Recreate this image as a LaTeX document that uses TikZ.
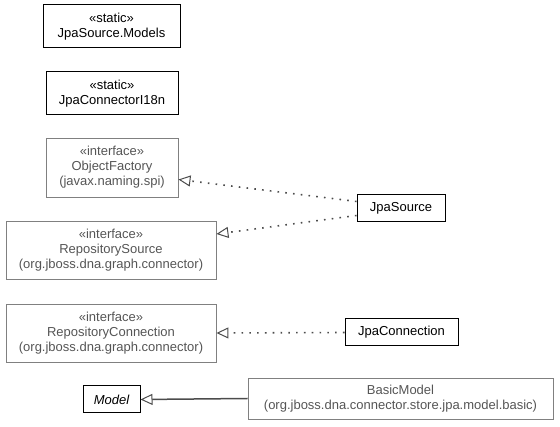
\documentclass[tikz,border=0pt]{standalone}
\usepackage{fontspec}
\setmainfont{Liberation Sans}
\usetikzlibrary{arrows.meta,calc}
\definecolor{grayline}{HTML}{808080}
\definecolor{graytext}{HTML}{555555}
\tikzset{
  cls/.style={draw=black, line width=1pt, inner sep=0pt, align=center, font=\fontsize{13}{15}\selectfont},
  iface/.style={draw=grayline, line width=0.9pt, inner sep=0pt, align=center, text=graytext, font=\fontsize{13}{15}\selectfont},
  realize/.style={draw=black!70, line width=1.6pt, dash pattern=on 1.6pt off 6.2pt, -{Triangle[open,length=12pt,width=11pt,line width=1pt]}},
  inherit/.style={draw=black!70, line width=1.5pt, -{Triangle[open,length=12pt,width=11pt,line width=1pt]}},
}
\begin{document}
\begin{tikzpicture}[x=1pt,y=-1pt]
\useasboundingbox (0,0) rectangle (560,427);
\node[cls, minimum width=137, minimum height=43] (models) at (111.5,26.5) {«static»\\JpaSource.Models};
\node[cls, minimum width=132, minimum height=43] (i18n) at (112,93.5) {«static»\\JpaConnectorI18n};
\node[iface, minimum width=132, minimum height=59] (of) at (112,167.5) {«interface»\\ObjectFactory\\(javax.naming.spi)};
\node[iface, minimum width=210, minimum height=58] (rs) at (111,250) {«interface»\\RepositorySource\\(org.jboss.dna.graph.connector)};
\node[iface, minimum width=210, minimum height=58] (rc) at (111,333) {«interface»\\RepositoryConnection\\(org.jboss.dna.graph.connector)};
\node[cls, minimum width=57, minimum height=27, font=\fontsize{13}{15}\selectfont\itshape] (model) at (111.5,399.5) {Model};
\node[iface, minimum width=305, minimum height=41] (bm) at (400.5,398.5) {BasicModel\\(org.jboss.dna.connector.store.jpa.model.basic)};
\node[cls, minimum width=88, minimum height=27] (js) at (401,208.5) {JpaSource};
\node[cls, minimum width=113, minimum height=27] (jc) at (401.5,332.5) {JpaConnection};
\draw[realize] ($(js.west)+(0,-7)$) -- ($(of.east)+(0,12)$);
\draw[realize] ($(js.west)+(0,7)$) -- ($(rs.east)+(0,-16)$);
\draw[realize] (jc.west) -- (rc.east);
\draw[inherit] (bm.west) -- (model.east);
\end{tikzpicture}
\end{document}
